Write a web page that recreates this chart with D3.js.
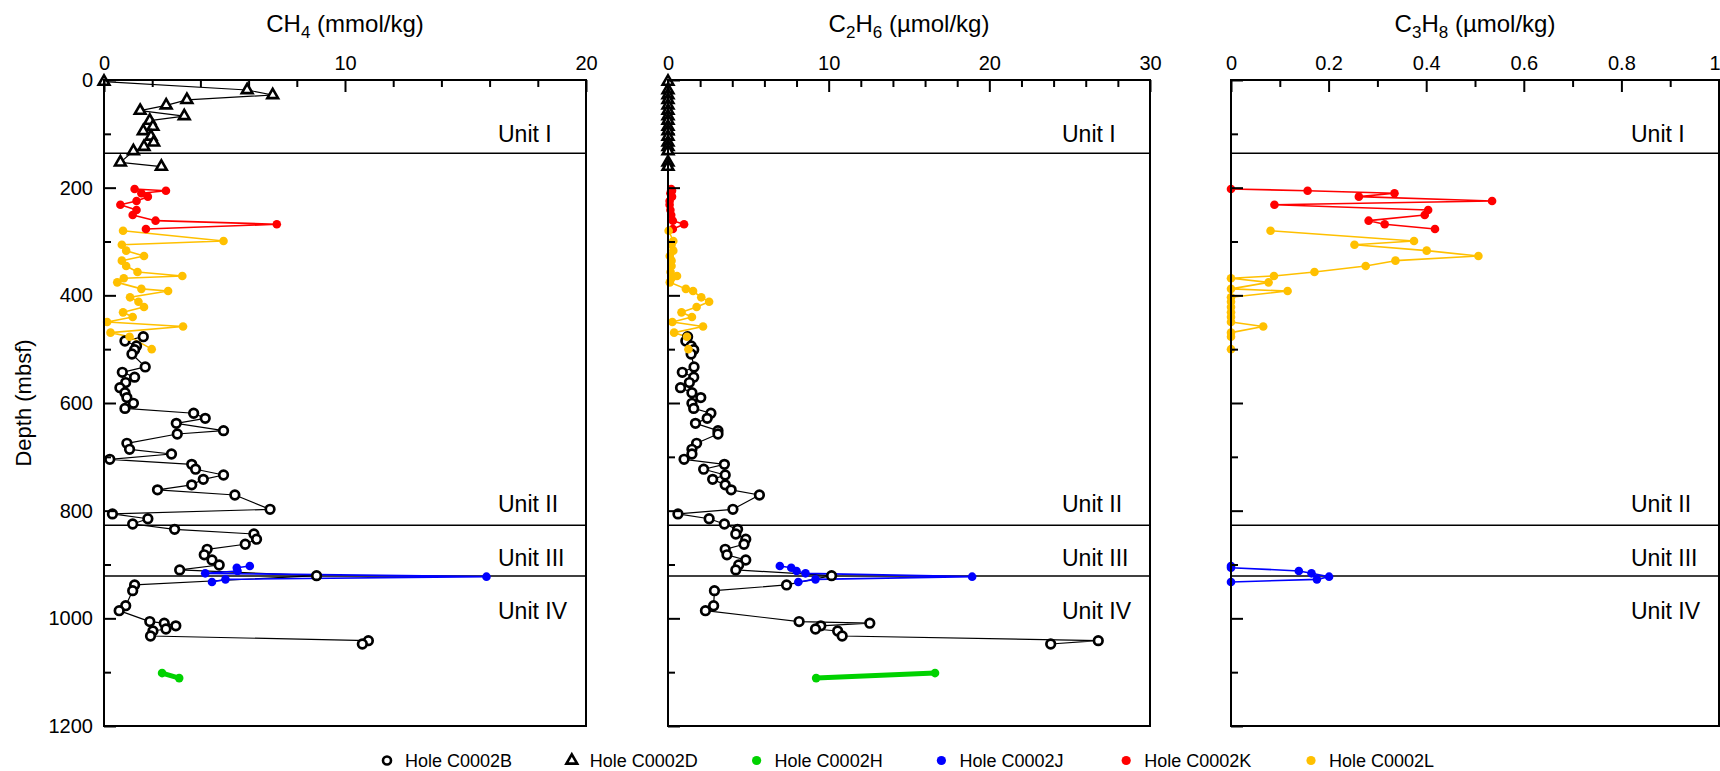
<!DOCTYPE html>
<html>
<head>
<meta charset="utf-8">
<script src="https://cdn.jsdelivr.net/npm/d3@7"></script>
<style>
  html, body { margin: 0; padding: 0; background: #fff; }
  svg { display: block; font-family: "Liberation Sans", Arial, Helvetica, sans-serif; }
</style>
</head>
<body>
<svg id="chart" width="1720" height="771"></svg>
<script>
// ---- Hydrocarbon gas profiles, Site C0002 ----
const holeNames = ["Hole C0002B", "Hole C0002D", "Hole C0002H", "Hole C0002J", "Hole C0002K", "Hole C0002L"];

// Hole C0002B
const depthB = [476.8, 484.8, 494, 501, 509, 533, 543, 552, 562, 571.5, 581, 590, 600.6, 610, 619, 628.5,
  637.8, 651.4, 657.6, 674.9, 686, 694.7, 704.6, 714, 723, 733.7, 741.8, 752, 761.3, 770.9, 797.5, 806,
  815, 824.8, 834.7, 843.3, 853, 862.4, 871.8, 882, 891.6, 900.9, 910, 920.7, 938, 948.6, 976.5, 985.8,
  1006, 1009, 1014, 1019.8, 1023.5, 1032.8, 1041.5, 1047.7];
const ch4B = [1.63, 0.87, 1.35, 1.27, 1.16, 1.71, 0.76, 1.27, 0.9, 0.66, 0.87, 0.95, 1.22, 0.87, 3.72, 4.2,
  3.0, 4.96, 3.04, 0.95, 1.06, 2.8, 0.24, 3.64, 3.8, 4.96, 4.12, 3.64, 2.22, 5.43, 6.89, 0.35,
  1.82, 1.19, 2.93, 6.22, 6.33, 5.86, 4.28, 4.16, 4.48, 4.78, 3.14, 8.82, 1.27, 1.19, 0.9, 0.63,
  1.9, 2.5, 2.98, 2.57, 2.03, 1.93, 10.97, 10.72];
const c2h6B = [1.22, 1.11, 1.44, 1.6, 1.44, 1.62, 0.89, 1.6, 1.33, 0.78, 1.49, 2.04, 1.49, 1.6, 2.67, 2.44,
  1.71, 3.11, 3.11, 1.78, 1.49, 1.49, 1.0, 3.51, 2.22, 3.56, 2.78, 3.56, 3.93, 5.69, 4.04, 0.62,
  2.56, 3.51, 4.33, 4.22, 4.84, 4.73, 3.56, 3.67, 4.84, 4.4, 4.22, 10.18, 7.38, 2.89, 2.84, 2.33,
  8.16, 12.56, 9.51, 9.18, 10.56, 10.84, 26.78, 23.82];

// Hole C0002D
const depthD = [3, 18.6, 27.9, 37, 47, 57, 67, 75.5, 86.7, 94.7, 105, 116, 124, 132, 153, 161];
const ch4D = [0, 5.94, 7.0, 3.44, 2.58, 1.5, 3.33, 1.9, 2.03, 1.63, 1.95, 2.06, 1.66, 1.22, 0.68, 2.38];
const c2h6D = [0, 0, 0, 0, 0, 0, 0, 0, 0, 0, 0, 0, 0, 0, 0, 0];

// Hole C0002H
const depthH = [1101.7, 1111];
const ch4H = [2.41, 3.12];
const c2h6H = [16.62, 9.22];

// Hole C0002J
const depthJ = [902.8, 905.9, 912, 916.4, 922.6, 927.6, 932.5];
const ch4J = [6.05, 5.51, 5.54, 4.2, 15.87, 5.04, 4.48];
const c2h6J = [6.96, 7.67, 8.0, 8.56, 18.93, 9.18, 8.11];
const c3h8J = [0, 0, 0.139, 0.165, 0.201, 0.176, 0];

// Hole C0002K
const depthK = [202.5, 205.6, 210.5, 216.7, 224.8, 231.6, 241.5, 250.8, 261.3, 268, 276.8];
const ch4K = [1.27, 2.57, 1.55, 1.82, 1.35, 0.68, 1.35, 1.19, 2.14, 7.17, 1.74];
const c2h6K = [0.2, 0.25, 0.15, 0.25, 0.1, 0.1, 0.15, 0.2, 0.3, 1.0, 0.3];
const c3h8K = [0, 0.157, 0.335, 0.262, 0.535, 0.089, 0.404, 0.397, 0.282, 0.315, 0.418];

// Hole C0002L
const depthL = [280, 299, 306, 317, 327, 335.6, 345.5, 356.7, 364, 368.4, 375.9, 388, 392, 403.7, 411.8,
  421.7, 431.6, 440.2, 449.5, 458, 469.3, 476.8, 500];
const ch4L = [0.79, 4.96, 0.74, 0.92, 1.66, 0.74, 0.92, 1.39, 3.25, 0.82, 0.55, 1.55, 2.66, 1.08, 1.43,
  1.66, 0.79, 1.19, 0.13, 3.28, 0.27, 1.06, 1.98];
const c2h6L = [0.04, 0.33, 0.22, 0.33, 0.11, 0.22, 0.22, 0.16, 0.56, 0.22, 0.11, 1.11, 1.56, 2.07, 2.56,
  1.78, 0.84, 1.49, 0.27, 2.18, 0.38, 1.18, 1.27];
const c3h8L = [0.081, 0.375, 0.253, 0.401, 0.507, 0.337, 0.276, 0.171, 0.088, 0, 0.077, 0, 0.116, 0, 0,
  0, 0, 0, 0, 0.066, 0, 0, 0];

// Lithologic unit boundaries (mbsf) and names
const unitBoundaries = [136, 827, 921.5];
const unitNames = ["Unit I", "Unit II", "Unit III", "Unit IV"];

// Axis ticks
const depthTicks = [0, 200, 400, 600, 800, 1000, 1200];
const depthMinor = [100, 300, 500, 700, 900, 1100];
const ch4Ticks = [0, 10, 20];
const ch4Minor = [2, 4, 6, 8, 12, 14, 16, 18];
const c2h6Ticks = [0, 10, 20, 30];
const c2h6Minor = [2, 4, 6, 8, 12, 14, 16, 18, 22, 24, 26, 28];
const c3h8Ticks = [0, 0.2, 0.4, 0.6, 0.8, 1];
const c3h8Minor = [0.1, 0.3, 0.5, 0.7, 0.9];

// ---- series tables built from the arrays above ----
const zipRows = (depth, vals) => depth.map((d, i) => ({ depth: d, value: vals[i] }));
const holeStyle = {
  "Hole C0002B": { color: "#000000", marker: "circle", line: 1.2 },
  "Hole C0002D": { color: "#000000", marker: "triangle", line: 1.2 },
  "Hole C0002H": { color: "#00d200", marker: "dot", line: 5 },
  "Hole C0002J": { color: "#0000ff", marker: "dot", line: 1.6 },
  "Hole C0002K": { color: "#ff0000", marker: "dot", line: 1.6 },
  "Hole C0002L": { color: "#ffc000", marker: "dot", line: 1.6 }
};

const panels = [
  {
    title: ["CH", "4", " (mmol/kg)"], domain: [0, 20], ticks: ch4Ticks, minor: ch4Minor,
    range: [104, 586], showDepthLabels: true,
    series: [
      ["Hole C0002B", zipRows(depthB, ch4B)],
      ["Hole C0002D", zipRows(depthD, ch4D)],
      ["Hole C0002H", zipRows(depthH, ch4H)],
      ["Hole C0002J", zipRows(depthJ, ch4J)],
      ["Hole C0002K", zipRows(depthK, ch4K)],
      ["Hole C0002L", zipRows(depthL, ch4L)]
    ]
  },
  {
    title: ["C", "2", "H", "6", " (\u00b5mol/kg)"], domain: [0, 30], ticks: c2h6Ticks, minor: c2h6Minor,
    range: [668, 1150], showDepthLabels: false,
    series: [
      ["Hole C0002B", zipRows(depthB, c2h6B)],
      ["Hole C0002D", zipRows(depthD, c2h6D)],
      ["Hole C0002H", zipRows(depthH, c2h6H)],
      ["Hole C0002J", zipRows(depthJ, c2h6J)],
      ["Hole C0002K", zipRows(depthK, c2h6K)],
      ["Hole C0002L", zipRows(depthL, c2h6L)]
    ]
  },
  {
    title: ["C", "3", "H", "8", " (\u00b5mol/kg)"], domain: [0, 1], ticks: c3h8Ticks, minor: c3h8Minor,
    range: [1231, 1719], showDepthLabels: false,
    series: [
      ["Hole C0002J", zipRows(depthJ, c3h8J)],
      ["Hole C0002K", zipRows(depthK, c3h8K)],
      ["Hole C0002L", zipRows(depthL, c3h8L)]
    ]
  }
];

// ---- drawing ----
const svg = d3.select("#chart");
const FONT = '"Liberation Sans", Arial, Helvetica, sans-serif';
const y = d3.scaleLinear().domain([0, 1200]).range([80, 726]);
const unitLabelDepths = [115, 802, 903, 1002];
const triangle = d3.symbol().type(d3.symbolTriangle).size(50);
const SVG_WIDTH = 1720;

function styleAxis(g, fontSize) {
  g.select(".domain").remove();
  g.selectAll(".tick line").attr("stroke", "#000").attr("stroke-width", 2);
  g.selectAll(".tick text").attr("fill", "#000").attr("font-size", fontSize).attr("font-family", FONT);
  g.attr("font-family", FONT);
}

function drawMarkers(g, rows, x, st) {
  if (st.marker === "circle") {
    g.selectAll(null).data(rows).join("circle")
      .attr("cx", d => x(d.value)).attr("cy", d => y(d.depth)).attr("r", 4.3)
      .attr("fill", "#fff").attr("stroke", "#000").attr("stroke-width", 2.7);
  } else if (st.marker === "triangle") {
    g.selectAll(null).data(rows).join("path")
      .attr("d", triangle)
      .attr("transform", d => `translate(${x(d.value)},${y(d.depth)})`)
      .attr("fill", "#fff").attr("stroke", "#000").attr("stroke-width", 2.6)
      .attr("stroke-linejoin", "miter");
  } else {
    g.selectAll(null).data(rows).join("circle")
      .attr("cx", d => x(d.value)).attr("cy", d => y(d.depth)).attr("r", 4.3)
      .attr("fill", st.color);
  }
}

panels.forEach(p => {
  const x = d3.scaleLinear().domain(p.domain).range(p.range);
  const g = svg.append("g");
  const [x0, x1] = p.range;
  const cx = (x0 + x1) / 2;

  // title with subscripts
  const t = g.append("text").attr("x", cx).attr("y", 32).attr("text-anchor", "middle")
    .attr("font-size", 24).attr("font-family", FONT).attr("fill", "#000");
  p.title.forEach((s, i) => {
    const isSub = /^[0-9]$/.test(s);
    const prevSub = i > 0 && /^[0-9]$/.test(p.title[i - 1]);
    const ts = t.append("tspan").text(s);
    if (isSub) ts.attr("font-size", 17).attr("dy", 6);
    else if (prevSub) ts.attr("dy", -6);
  });

  // unit boundaries
  g.selectAll(null).data(unitBoundaries).join("line")
    .attr("x1", x0).attr("x2", x1)
    .attr("y1", d => y(d)).attr("y2", d => y(d))
    .attr("stroke", "#000").attr("stroke-width", 1.6);

  // unit names
  g.selectAll(null).data(unitNames).join("text")
    .attr("x", x1 - 88).attr("y", (d, i) => y(unitLabelDepths[i]))
    .attr("font-size", 23).attr("font-family", FONT).attr("fill", "#000")
    .text(d => d);

  // data lines and markers
  p.series.forEach(([hole, rows]) => {
    const st = holeStyle[hole];
    const line = d3.line().x(d => x(d.value)).y(d => y(d.depth));
    g.append("path").datum(rows).attr("d", line)
      .attr("fill", "none").attr("stroke", st.color).attr("stroke-width", st.line)
      .attr("stroke-linejoin", "round");
  });
  p.series.forEach(([hole, rows]) => {
    drawMarkers(g.append("g"), rows, x, holeStyle[hole]);
  });

  // top value axis (ticks pointing inward)
  const fmt = d => String(d);
  g.append("g").attr("transform", `translate(0,${y(0)})`)
    .call(d3.axisTop(x).tickValues(p.ticks).tickFormat(fmt).tickSizeInner(-12).tickSizeOuter(0).tickPadding(10))
    .call(ax => styleAxis(ax, 20))
    .call(ax => ax.selectAll(".tick text")
      .filter(d => x(d) + 6 > SVG_WIDTH)
      .attr("text-anchor", "end").attr("dx", 1));
  g.append("g").attr("transform", `translate(0,${y(0)})`)
    .call(d3.axisTop(x).tickValues(p.minor).tickFormat("").tickSizeInner(-7).tickSizeOuter(0))
    .call(ax => styleAxis(ax, 20));

  // left depth axis
  g.append("g").attr("transform", `translate(${x0},0)`)
    .call(d3.axisLeft(y).tickValues(depthTicks).tickFormat(p.showDepthLabels ? fmt : "")
      .tickSizeInner(-12).tickSizeOuter(0).tickPadding(11))
    .call(ax => styleAxis(ax, 20));
  g.append("g").attr("transform", `translate(${x0},0)`)
    .call(d3.axisLeft(y).tickValues(depthMinor).tickFormat("").tickSizeInner(-7).tickSizeOuter(0))
    .call(ax => styleAxis(ax, 20));

  // frame
  g.append("rect").attr("x", x0).attr("y", y(0)).attr("width", x1 - x0).attr("height", y(1200) - y(0))
    .attr("fill", "none").attr("stroke", "#000").attr("stroke-width", 2);
});

// depth axis title
svg.append("text").attr("transform", `translate(31,${(y(0) + y(1200)) / 2}) rotate(-90)`)
  .attr("text-anchor", "middle").attr("font-size", 22).attr("font-family", FONT).attr("fill", "#000")
  .text("Depth (mbsf)");

// legend
const legendX = d3.scalePoint().domain(holeNames).range([387, 1311]);
const lg = svg.append("g");
holeNames.forEach(h => {
  const st = holeStyle[h];
  const mx = legendX(h), my = 760.5;
  const item = lg.append("g");
  if (st.marker === "circle") {
    item.append("circle").attr("cx", mx).attr("cy", my).attr("r", 4).attr("fill", "#fff")
      .attr("stroke", "#000").attr("stroke-width", 2.6);
  } else if (st.marker === "triangle") {
    item.append("path").attr("d", triangle).attr("transform", `translate(${mx},${my})`)
      .attr("fill", "#fff").attr("stroke", "#000").attr("stroke-width", 2.6);
  } else {
    item.append("circle").attr("cx", mx).attr("cy", my).attr("r", 4.6).attr("fill", st.color);
  }
  item.append("text").attr("x", mx + 18).attr("y", 767).attr("font-size", 18)
    .attr("font-family", FONT).attr("fill", "#000").text(h);
});
</script>
</body>
</html>
